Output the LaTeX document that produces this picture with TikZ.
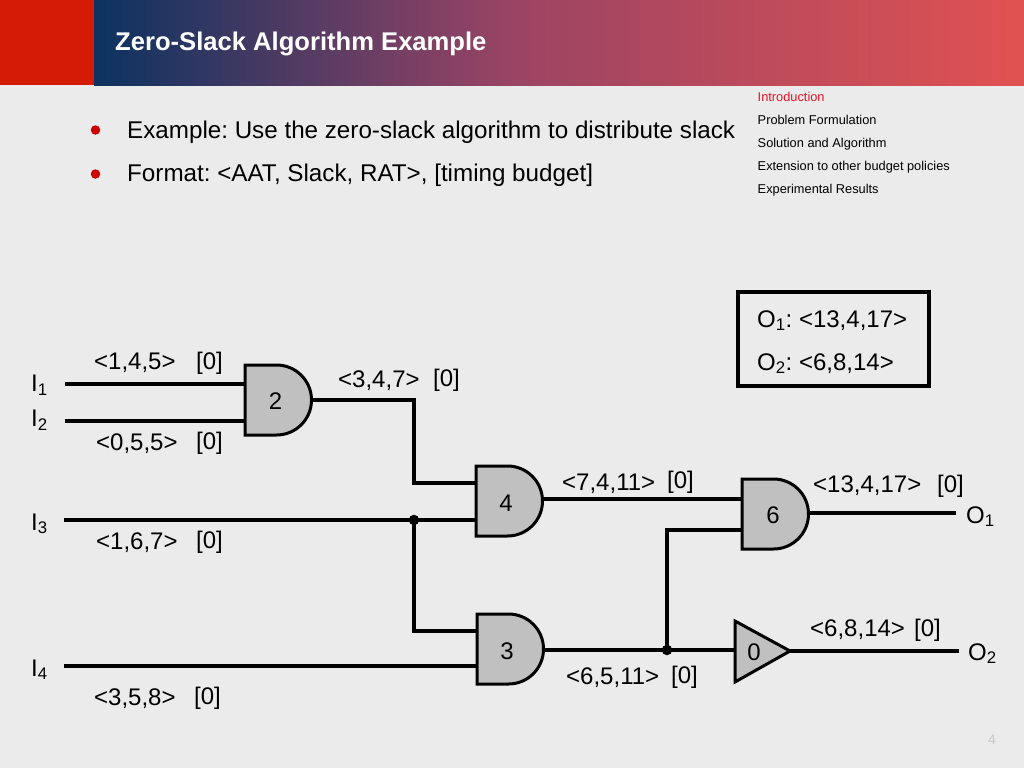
\documentclass[tikz,border=0pt]{standalone}
\usepackage{fontspec}
\setmainfont{Liberation Sans}
\usetikzlibrary{calc}
\definecolor{bgc}{RGB}{235,235,235}
\definecolor{redblock}{RGB}{211,27,6}
\definecolor{bandl}{RGB}{12,50,97}
\definecolor{bandm}{RGB}{155,68,100}
\definecolor{bandr}{RGB}{224,82,82}
\definecolor{bulletc}{RGB}{204,0,0}
\definecolor{navred}{RGB}{230,20,40}
\definecolor{gatec}{RGB}{192,192,192}
\definecolor{pagenum}{RGB}{200,200,200}
\tikzset{
  x=1pt,y=-1pt,
  wire/.style={line width=3.2pt,line cap=butt,line join=miter},
  gateshape/.style={draw=black,fill=gatec,line width=3pt,line join=miter},
  gatelabel/.style={inner sep=0pt,font=\fontsize{24}{26}\selectfont},
  lbl/.style={inner sep=0pt,anchor=base west,font=\fontsize{24}{26}\selectfont},
  bodytxt/.style={inner sep=0pt,anchor=base west,font=\fontsize{24.2}{26}\selectfont},
  navtxt/.style={inner sep=0pt,anchor=base west,font=\fontsize{12.8}{14}\selectfont},
  junction/.style={circle,fill=black,inner sep=0pt,minimum size=10.5pt},
  bulletdot/.style={circle,fill=bulletc,inner sep=0pt,minimum size=9.5pt}
}
\newcommand{\andgate}[3]{% name, left x, centre y
  \draw[gateshape] (#2,#3-35) -- (#2+31.5,#3-35) arc[start angle=-90,end angle=90,radius=35] -- (#2,#3+35) -- cycle;
}
\frenchspacing
\begin{document}
\begin{tikzpicture}
\useasboundingbox (0,0) rectangle (1024,768);
\fill[bgc] (0,0) rectangle (1024,768);
\fill[redblock] (0,0) rectangle (94,85);
\shade[left color=bandl,right color=bandm] (94,0) rectangle (512.5,85.6);
\shade[left color=bandm,right color=bandr] (512,0) rectangle (1024,85.6);
\node[inner sep=0pt,anchor=base west,text=white,font=\fontsize{25.6}{28}\selectfont\bfseries] (title) at (115,50) {Zero-Slack Algorithm Example};

\node[bulletdot] (b1) at (95.5,130) {};
\node[bulletdot] (b2) at (95.5,174) {};
\node[bodytxt] (t1) at (127,138) {Example: Use the zero-slack algorithm to distribute slack};
\node[bodytxt] (t2) at (127,181.5) {Format: <AAT, Slack, RAT>, [timing budget]};

\node[navtxt,text=navred] (n1) at (757.5,101) {Introduction};
\node[navtxt] (n2) at (757.5,124) {Problem Formulation};
\node[navtxt] (n3) at (757.5,147) {Solution and Algorithm};
\node[navtxt] (n4) at (757.5,170) {Extension to other budget policies};
\node[navtxt] (n5) at (757.5,193) {Experimental Results};

\draw[line width=4pt] (738,292) rectangle (929,386);
\node[lbl] (o1s) at (757,327) {O\textsubscript{1}: <13,4,17>};
\node[lbl] (o2s) at (757,370) {O\textsubscript{2}: <6,8,14>};

% pins
\coordinate (i1) at (65,384);
\coordinate (i2) at (65,421);
\coordinate (i3) at (64,520);
\coordinate (i4) at (64,666);
\coordinate (g2a) at (245,384);
\coordinate (g2b) at (245,421);
\coordinate (g2o) at (312,400);
\coordinate (g4a) at (476,483);
\coordinate (g4b) at (476,520);
\coordinate (g4o) at (543,499);
\coordinate (g3a) at (477,631);
\coordinate (g3b) at (477,666);
\coordinate (g3o) at (544,650);
\coordinate (g6a) at (742,499);
\coordinate (g6b) at (742,530);
\coordinate (g6o) at (809,513);
\coordinate (g0a) at (735,650);
\coordinate (g0o) at (790,651);
\coordinate (o1) at (956,513);
\coordinate (o2) at (959,651);
\coordinate (j1) at (414,520);
\coordinate (j2) at (667,650);

% wires
\draw[wire] (i1) -- (g2a);
\draw[wire] (i2) -- (g2b);
\draw[wire] (g2o) -| (414,483) -- (g4a);
\draw[wire] (i3) -- (g4b);
\draw[wire] (j1) |- (g3a);
\draw[wire] (i4) -- (g3b);
\draw[wire] (g4o) -- (g6a);
\draw[wire] (g3o) -- (g0a);
\draw[wire] (j2) |- (g6b);
\draw[wire] (g6o) -- (o1);
\draw[wire] (g0o) -- (o2);

% gates
\andgate{gtwo}{245}{400}
\andgate{gfour}{476}{501}
\andgate{gthree}{477}{649}
\andgate{gsix}{742}{514}
\draw[gateshape] (735,621) -- (790,651) -- (735,682) -- cycle;
\node[gatelabel] (ltwo) at (275.5,401) {2};
\node[gatelabel] (lfour) at (506,503) {4};
\node[gatelabel] (lthree) at (507,651) {3};
\node[gatelabel] (lsix) at (773,515) {6};
\node[gatelabel] (gzero) at (754,652.5) {0};
\node[junction] (dot1) at (j1) {};
\node[junction] (dot2) at (j2) {};

% labels
\node[lbl] (li1) at (31,391.5) {I\textsubscript{1}};
\node[lbl] (li2) at (31,426.5) {I\textsubscript{2}};
\node[lbl] (li3) at (31,530) {I\textsubscript{3}};
\node[lbl] (li4) at (31,676) {I\textsubscript{4}};
\node[lbl] (lo1) at (966,523) {O\textsubscript{1}};
\node[lbl] (lo2) at (968,660) {O\textsubscript{2}};

\node[lbl] (a1) at (94,369) {<1,4,5>};   \node[lbl] (a1b) at (196,369) {[0]};
\node[lbl] (a2) at (96,450) {<0,5,5>};   \node[lbl] (a2b) at (196,449) {[0]};
\node[lbl] (a3) at (96,549) {<1,6,7>};   \node[lbl] (a3b) at (196,548) {[0]};
\node[lbl] (a4) at (94,705) {<3,5,8>};   \node[lbl] (a4b) at (194,704) {[0]};
\node[lbl] (a5) at (338,387) {<3,4,7>};  \node[lbl] (a5b) at (433,386) {[0]};
\node[lbl] (a6) at (562,490) {<7,4,11>}; \node[lbl] (a6b) at (667,488) {[0]};
\node[lbl] (a7) at (566,684) {<6,5,11>}; \node[lbl] (a7b) at (671,683) {[0]};
\node[lbl] (a8) at (813,492) {<13,4,17>};\node[lbl] (a8b) at (937,492) {[0]};
\node[lbl] (a9) at (810,636) {<6,8,14>}; \node[lbl] (a9b) at (914,636) {[0]};

\node[inner sep=0pt,anchor=base east,text=pagenum,font=\fontsize{14}{16}\selectfont] (pg) at (996,744) {4};
\end{tikzpicture}
\end{document}
